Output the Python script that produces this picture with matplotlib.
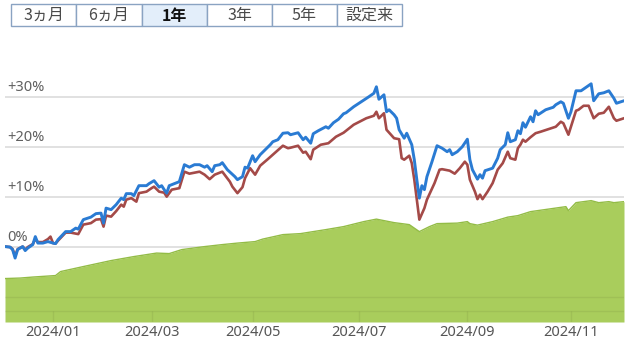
import matplotlib
matplotlib.use("Agg")
import matplotlib.pyplot as plt
from matplotlib.patches import Rectangle
import numpy as np

# trading-day index -> return (%)
blue_x = [0, 2, 3, 4, 5, 7, 8, 9, 11, 12, 13, 15, 17, 19, 20, 21, 24, 26, 28, 29,
          31, 34, 36, 38, 39, 40, 42, 44, 46, 47, 48, 50, 51, 53, 56, 57, 59, 61, 62, 63,
          64, 65, 67, 69, 71, 73, 75, 77, 79, 80, 82, 83, 85, 86, 88, 91, 92, 94, 95, 96,
          98, 99, 101, 103, 105, 106, 108, 110, 112, 113, 116, 118, 119, 121, 122, 124, 127, 128, 130, 132,
          134, 135, 138, 141, 144, 146, 147, 148, 150, 151, 152, 154, 155, 156, 158, 159, 161, 162, 163, 164,
          165, 166, 167, 169, 171, 173, 175, 176, 177, 179, 181, 183, 184, 185, 187, 188, 189, 190, 193, 195,
          196, 198, 199, 200, 202, 203, 204, 205, 206, 208, 209, 210, 211, 214, 217, 218, 220, 221, 223, 224,
          226, 228, 230, 232, 233, 235, 237, 239, 241, 242, 245]
blue_y = [0.1, 0.0, -0.5, -2.2, -0.5, 0.1, -0.7, -0.2, 0.5, 2.1, 0.8, 0.8, 1.1, 0.8, 0.7, 1.5, 3.1, 3.1, 3.8, 3.6,
          5.5, 6.0, 6.7, 6.8, 4.8, 7.8, 7.5, 8.5, 9.8, 9.5, 10.7, 10.7, 10.3, 12.3, 12.3, 12.7, 13.3, 12.0, 12.3, 11.5,
          10.8, 12.3, 12.7, 13.1, 16.5, 16.0, 16.5, 16.5, 16.0, 16.3, 15.1, 16.3, 16.5, 16.9, 15.5, 14.1, 13.5, 14.1, 16.0, 15.8,
          18.3, 17.1, 18.5, 19.5, 20.5, 21.1, 21.5, 22.8, 22.9, 22.5, 22.9, 21.5, 22.0, 20.8, 22.7, 23.3, 24.1, 23.8, 24.9, 25.6,
          26.7, 26.9, 28.1, 29.1, 30.1, 30.8, 32.1, 29.6, 30.5, 27.1, 27.5, 26.5, 25.8, 23.5, 21.8, 22.8, 20.5, 17.5, 13.5, 9.8,
          12.3, 11.5, 14.1, 17.1, 20.3, 19.8, 19.1, 19.5, 18.5, 19.1, 20.1, 21.6, 17.5, 15.5, 13.6, 14.5, 13.8, 15.3, 15.8, 17.8,
          19.5, 20.5, 22.9, 21.1, 21.5, 23.3, 22.7, 24.9, 24.0, 26.1, 25.1, 27.3, 26.5, 27.5, 28.0, 28.5, 29.1, 28.8, 25.8, 27.1,
          31.3, 31.3, 32.0, 32.7, 29.3, 30.7, 30.9, 31.3, 29.8, 28.8, 29.3]

red_x = [0, 2, 3, 4, 5, 7, 8, 9, 11, 12, 13, 15, 17, 18, 19, 20, 21, 24, 26, 28,
         29, 31, 34, 36, 38, 39, 40, 42, 44, 46, 47, 48, 50, 52, 53, 56, 58, 59, 61, 63,
         64, 66, 69, 71, 73, 77, 79, 81, 83, 86, 89, 90, 92, 94, 95, 97, 99, 101, 104, 106,
         110, 112, 113, 116, 118, 119, 121, 122, 125, 128, 131, 134, 138, 143, 146, 147, 148, 150, 151, 154,
         156, 157, 158, 160, 161, 162, 163, 164, 166, 167, 170, 172, 173, 176, 178, 180, 182, 183, 184, 186,
         187, 188, 189, 191, 193, 195, 197, 199, 200, 202, 203, 204, 205, 206, 208, 210, 212, 215, 218, 220,
         221, 223, 224, 226, 227, 229, 231, 233, 235, 237, 239, 241, 242, 245]
red_y = [0.1, 0.0, -0.4, -1.8, -0.4, 0.1, -0.5, 0.0, 0.6, 1.6, 1.0, 1.0, 1.6, 2.1, 0.8, 0.7, 1.3, 2.9, 2.9, 2.7,
         2.6, 4.5, 4.8, 5.5, 5.6, 4.1, 6.3, 6.1, 7.2, 8.5, 8.1, 9.5, 9.8, 9.1, 10.8, 11.1, 11.8, 12.1, 11.1, 10.9,
         10.1, 11.5, 11.8, 15.1, 14.7, 15.1, 14.5, 13.6, 14.5, 15.1, 13.1, 12.1, 10.8, 12.0, 13.8, 15.8, 14.5, 16.3, 17.6, 18.5,
         20.3, 19.8, 19.9, 20.3, 18.9, 19.1, 17.6, 19.5, 20.5, 20.8, 22.1, 22.9, 24.5, 25.8, 26.3, 27.1, 25.8, 26.8, 23.5, 21.8,
         21.6, 17.8, 17.5, 18.3, 16.8, 13.5, 9.5, 5.5, 7.8, 9.5, 12.8, 15.5, 15.6, 15.3, 14.7, 15.8, 17.1, 16.5, 13.5, 11.1,
         9.6, 10.5, 9.6, 11.1, 12.8, 15.5, 16.8, 19.1, 17.8, 17.5, 19.8, 20.5, 21.5, 21.1, 22.0, 22.8, 23.1, 23.6, 24.1, 25.1,
         24.8, 22.5, 24.1, 27.3, 27.5, 28.3, 28.3, 25.8, 26.7, 26.9, 28.1, 25.8, 25.3, 25.8]

green_x = [0, 6, 11, 20, 22, 31, 42, 51, 60, 65, 70, 79, 86, 92, 99, 102, 110, 117, 122, 127,
           134, 142, 147, 154, 160, 164, 168, 171, 179, 183, 184, 187, 193, 199, 203, 208, 215, 222, 223, 226,
           232, 235, 239, 241, 245]
green_y = [-6.3, -6.2, -6.0, -5.7, -4.9, -3.9, -2.7, -1.9, -1.2, -1.3, -0.5, 0.1, 0.5, 0.8, 1.1, 1.6, 2.5, 2.7, 3.1, 3.5,
           4.1, 5.1, 5.6, 4.9, 4.5, 3.1, 4.1, 4.7, 4.8, 5.1, 4.7, 4.4, 5.1, 6.0, 6.3, 7.1, 7.6, 8.1, 7.3, 8.9,
           9.3, 8.9, 9.1, 8.9, 9.1]

month_pos = [19, 58, 98, 140, 183, 224]
month_labels = ["2024/01", "2024/03", "2024/05", "2024/07", "2024/09", "2024/11"]
y_ticks = [0, 10, 20, 30]
y_labels = ["0%", "+10%", "+20%", "+30%"]
tabs = ["3ヵ月", "6ヵ月", "1年", "3年", "5年", "設定来"]

plt.rcParams['font.family'] = ['Noto Sans', 'Noto Sans CJK JP', 'DejaVu Sans']

W, H = 632, 347
fig = plt.figure(figsize=(W / 100, H / 100), dpi=100)

# period tabs
tab_edges = [11, 76, 142, 207, 272, 337, 402]
for i, t in enumerate(tabs):
    x0, x1 = tab_edges[i], tab_edges[i + 1]
    sel = (t == "1年")
    fig.patches.append(Rectangle((x0 / W, 1 - 26 / H), (x1 - x0) / W, 22 / H,
                                 transform=fig.transFigure, facecolor="#e3eefa" if sel else "white",
                                 edgecolor="#8aa3c2", lw=1.0))
    fig.text((x0 + x1) / 2 / W, 1 - 15.5 / H, t, ha="center", va="center",
             fontsize=11.5, color="#111111" if sel else "#4a4a4a",
             fontweight="bold" if sel else "normal",
             family=['Noto Sans CJK JP', 'DejaVu Sans'])

ylo, yhi = -15, 35
ax = fig.add_axes([5 / W, (H - 322) / H, 619 / W, (322 - 72.3) / H])
ax.set_xlim(0, 245)
ax.set_ylim(ylo, yhi)
for s in ax.spines.values():
    s.set_visible(False)

for v in y_ticks:
    ax.axhline(v, color="#dcdcdc", lw=1.2, zorder=0)

ax.fill_between(green_x, green_y, ylo, color="#a9cd5c", lw=0, zorder=1)
ax.plot(green_x, green_y, color="#93bc46", lw=1.0, zorder=1.5)

# lines showing through the area
ax.axhline(-10, color=(0, 0, 0, 0.06), lw=1.0, zorder=2)
axis_y = -12.74
ax.axhline(axis_y, color=(0, 0, 0, 0.06), lw=1.0, zorder=2)
ax.vlines(month_pos, ylo, axis_y, color=(0, 0, 0, 0.06), lw=1.0, zorder=2)

ax.plot(red_x, red_y, color="#a44a48", lw=1.9, zorder=3, solid_joinstyle="round")
ax.plot(blue_x, blue_y, color="#2a7bd3", lw=2.1, zorder=4, solid_joinstyle="round")

for v, lab in zip(y_ticks, y_labels):
    ax.text(0.003, v + 0.5, lab, transform=ax.get_yaxis_transform(), ha="left", va="bottom",
            fontsize=10.5, color="#606060", zorder=5)

ax.set_yticks([])
ax.set_xticks(month_pos)
ax.set_xticklabels(month_labels, fontsize=10.5, color="#555555")
ax.tick_params(axis="x", length=0, pad=2)

fig.savefig("out.png", dpi=100)
